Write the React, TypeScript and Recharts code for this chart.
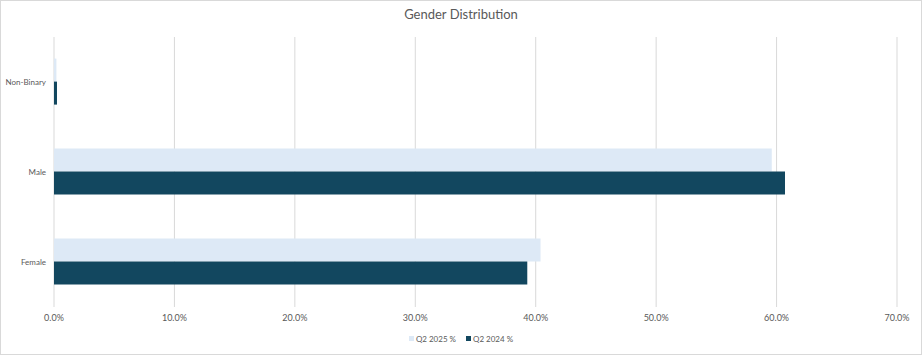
import { BarChart, Bar, XAxis, YAxis, CartesianGrid, Legend } from 'recharts'

const categories = ['Non-Binary', 'Male', 'Female']
const q2_2025 = [0.002, 0.596, 0.404]
const q2_2024 = [0.0025, 0.607, 0.393]
const xTicks = [0, 0.1, 0.2, 0.3, 0.4, 0.5, 0.6, 0.7]

const series = [
  { key: 'q2025', name: 'Q2 2025 %', color: '#dde9f6' },
  { key: 'q2024', name: 'Q2 2024 %', color: '#12475f' },
]

const data = categories.map((name, i) => ({
  name,
  q2025: q2_2025[i],
  q2024: q2_2024[i],
}))

const FONT = 'Lato, "Open Sans", sans-serif'
const TEXT = '#595959'

function LegendContent() {
  return (
    <div
      style={{
        display: 'flex',
        justifyContent: 'center',
        alignItems: 'center',
        height: 23,
        fontSize: 8,
        color: TEXT,
        gap: 10,
      }}
    >
      {series.map((s) => (
        <span key={s.key} style={{ display: 'flex', alignItems: 'center', gap: 2 }}>
          <span style={{ width: 5, height: 5, background: s.color, display: 'inline-block' }} />
          {s.name}
        </span>
      ))}
    </div>
  )
}

export default function App() {
  return (
    <div style={{ position: 'relative', width: 922, height: 355, fontFamily: FONT }}>
      <style>{`body{margin:0}`}</style>
      <div
        style={{
          position: 'absolute',
          top: 6,
          left: 0,
          width: 922,
          textAlign: 'center',
          fontSize: 13,
          color: TEXT,
        }}
      >
        Gender Distribution
      </div>
      <BarChart
        width={922}
        height={355}
        data={data}
        layout="vertical"
        margin={{ top: 37, right: 25, left: 0, bottom: 5 }}
        barCategoryGap="24%"
        barGap={0}
      >
        <CartesianGrid horizontal={false} stroke="#d9d9d9" />
        <XAxis
          type="number"
          domain={[0, 0.7]}
          ticks={xTicks}
          tickFormatter={(v: number) => `${(v * 100).toFixed(1)}%`}
          tick={{ fill: TEXT, fontSize: 9 }}
          tickLine={false}
          axisLine={false}
          height={20}
        />
        <YAxis
          type="category"
          dataKey="name"
          width={54}
          tick={{ fill: TEXT, fontSize: 8 }}
          tickLine={false}
          axisLine={false}
        />
        <Legend
          verticalAlign="bottom"
          height={23}
          wrapperStyle={{ left: 0, width: 922 }}
          content={<LegendContent />}
        />
        {series.map((s) => (
          <Bar key={s.key} dataKey={s.key} name={s.name} fill={s.color} isAnimationActive={false} />
        ))}
      </BarChart>
      <div
        style={{
          position: 'absolute',
          inset: 0,
          border: '1px solid #d9d9d9',
          pointerEvents: 'none',
        }}
      />
    </div>
  )
}
